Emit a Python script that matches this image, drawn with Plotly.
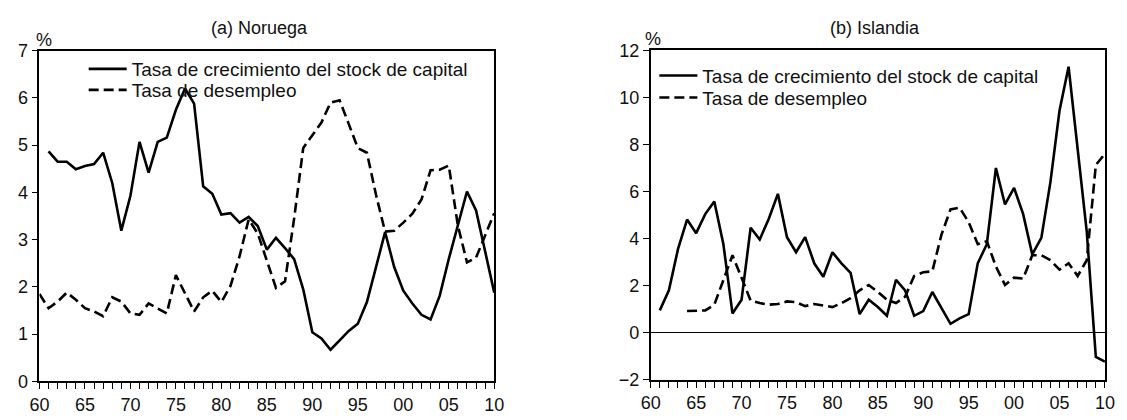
import plotly.graph_objects as go

# Norway (panel a)
years_no_capital = list(range(1961, 2011))
no_capital = [4.87, 4.65, 4.65, 4.49, 4.56, 4.60, 4.84, 4.20, 3.19, 3.93,
              5.07, 4.42, 5.07, 5.16, 5.75, 6.20, 5.88, 4.13, 3.97, 3.53,
              3.56, 3.36, 3.48, 3.29, 2.79, 3.04, 2.82, 2.59, 1.95, 1.04,
              0.91, 0.67, 0.87, 1.07, 1.22, 1.68, 2.42, 3.16, 2.42, 1.92,
              1.65, 1.41, 1.31, 1.81, 2.59, 3.33, 4.02, 3.62, 2.76, 1.88]
years_no_unemp = list(range(1960, 2011))
no_unemp = [1.85, 1.55, 1.69, 1.88, 1.73, 1.55, 1.48, 1.38, 1.78, 1.69,
            1.44, 1.41, 1.65, 1.55, 1.44, 2.25, 1.85, 1.48, 1.78, 1.92,
            1.68, 2.02, 2.65, 3.43, 3.13, 2.55, 1.98, 2.12, 3.45, 4.94,
            5.20, 5.48, 5.90, 5.95, 5.45, 4.94, 4.84, 3.95, 3.17, 3.19,
            3.36, 3.55, 3.85, 4.47, 4.48, 4.57, 3.30, 2.52, 2.62, 3.09,
            3.56]

# Iceland (panel b)
years_is_capital = list(range(1961, 2011))
is_capital = [0.95, 1.80, 3.55, 4.81, 4.23, 5.04, 5.58, 3.76, 0.82, 1.40,
              4.46, 3.96, 4.84, 5.90, 4.06, 3.42, 4.06, 2.95, 2.38, 3.42,
              2.95, 2.54, 0.79, 1.40, 1.09, 0.72, 2.25, 1.80, 0.72, 0.92,
              1.73, 1.06, 0.38, 0.61, 0.79, 2.95, 3.76, 7.00, 5.45, 6.15,
              5.04, 3.33, 4.03, 6.40, 9.43, 11.30, 7.80, 4.30, -1.03, -1.23]
years_is_unemp = list(range(1964, 2011))
is_unemp = [0.92, 0.92, 0.95, 1.19, 2.20, 3.29, 2.34, 1.36, 1.26, 1.19,
            1.22, 1.33, 1.30, 1.13, 1.22, 1.17, 1.09, 1.26, 1.47, 1.80,
            2.03, 1.73, 1.40, 1.26, 1.53, 2.41, 2.57, 2.61, 4.16, 5.24,
            5.31, 4.70, 3.76, 3.89, 2.81, 2.03, 2.34, 2.30, 3.29, 3.29,
            3.08, 2.68, 2.95, 2.41, 3.08, 7.13, 7.60]

x_tickvals = list(range(1960, 2011, 5))
x_ticktext = ["60", "65", "70", "75", "80", "85", "90", "95", "00", "05", "10"]

name_capital = "Tasa de crecimiento del stock de capital"
name_unemp = "Tasa de desempleo"

FONT = "Liberation Sans, Arial, sans-serif"
solid = dict(color="black", width=2.6)
dashed = dict(color="black", width=2.6, dash="10px,5px")

fig = go.Figure()
# each series gets its own one-entry legend so the rows can be placed freely
fig.add_trace(go.Scatter(x=years_no_capital, y=no_capital, mode="lines",
                         line=solid, name=name_capital,
                         xaxis="x", yaxis="y", legend="legend"))
fig.add_trace(go.Scatter(x=years_no_unemp, y=no_unemp, mode="lines",
                         line=dashed, name=name_unemp,
                         xaxis="x", yaxis="y", legend="legend2"))
fig.add_trace(go.Scatter(x=years_is_capital, y=is_capital, mode="lines",
                         line=solid, name=name_capital,
                         xaxis="x2", yaxis="y2", legend="legend3"))
fig.add_trace(go.Scatter(x=years_is_unemp, y=is_unemp, mode="lines",
                         line=dashed, name=name_unemp,
                         xaxis="x2", yaxis="y2", legend="legend4"))

W, H = 1127, 420


def px_x(p):
    return p / W


def px_y(p):
    return (H - p) / H


common_x = dict(range=[1960, 2010], tickvals=x_tickvals, ticktext=x_ticktext,
                ticks="outside", ticklen=6, tickwidth=1.2, tickcolor="black",
                minor=dict(ticks="outside", dtick=1, tick0=1960, ticklen=6,
                           tickwidth=1.2, tickcolor="black"),
                showline=True, linecolor="black", linewidth=1.5, mirror=True,
                showgrid=False, zeroline=False,
                tickfont=dict(family=FONT, size=18, color="#111"))
common_y = dict(ticks="outside", ticklen=6, tickwidth=1.2, tickcolor="black",
                showline=True, linecolor="black", linewidth=1.5, mirror=True,
                showgrid=False,
                tickfont=dict(family=FONT, size=18, color="#111"))

legend_common = dict(font=dict(family=FONT, size=19, color="#111"),
                     bgcolor="rgba(0,0,0,0)", borderwidth=0,
                     xanchor="left", yanchor="middle", itemwidth=38)

fig.update_layout(
    width=W, height=H,
    margin=dict(l=0, r=0, t=0, b=0),
    paper_bgcolor="white", plot_bgcolor="white",
    showlegend=True,
    xaxis=dict(domain=[px_x(30), px_x(493)], anchor="y", **common_x),
    yaxis=dict(domain=[px_y(390), px_y(42.7)], anchor="x",
               range=[0, 7], dtick=1, tick0=0, zeroline=False, **common_y),
    xaxis2=dict(domain=[px_x(652.3), px_x(1114.7)], anchor="y2", **common_x),
    yaxis2=dict(domain=[px_y(388.3), px_y(42.3)], anchor="x2",
                range=[-2, 12], dtick=2, tick0=0,
                zeroline=True, zerolinecolor="black", zerolinewidth=1,
                **common_y),
    legend=dict(x=px_x(75), y=px_y(62), **legend_common),
    legend2=dict(x=px_x(75), y=px_y(84), **legend_common),
    legend3=dict(x=px_x(656), y=px_y(69), **legend_common),
    legend4=dict(x=px_x(656), y=px_y(92), **legend_common),
    annotations=[
        dict(text="(a) Noruega", x=px_x(254), y=px_y(19), xref="paper",
             yref="paper", showarrow=False, xanchor="center", yanchor="middle",
             font=dict(family=FONT, size=18, color="#111")),
        dict(text="(b) Islandia", x=px_x(880.5), y=px_y(19), xref="paper",
             yref="paper", showarrow=False, xanchor="center", yanchor="middle",
             font=dict(family=FONT, size=18, color="#111")),
        dict(text="%", x=px_x(35), y=px_y(31), xref="paper", yref="paper",
             showarrow=False, xanchor="center", yanchor="middle",
             font=dict(family=FONT, size=18, color="#111")),
        dict(text="%", x=px_x(655), y=px_y(30), xref="paper", yref="paper",
             showarrow=False, xanchor="center", yanchor="middle",
             font=dict(family=FONT, size=18, color="#111")),
    ],
)

fig.write_html("out.html")
